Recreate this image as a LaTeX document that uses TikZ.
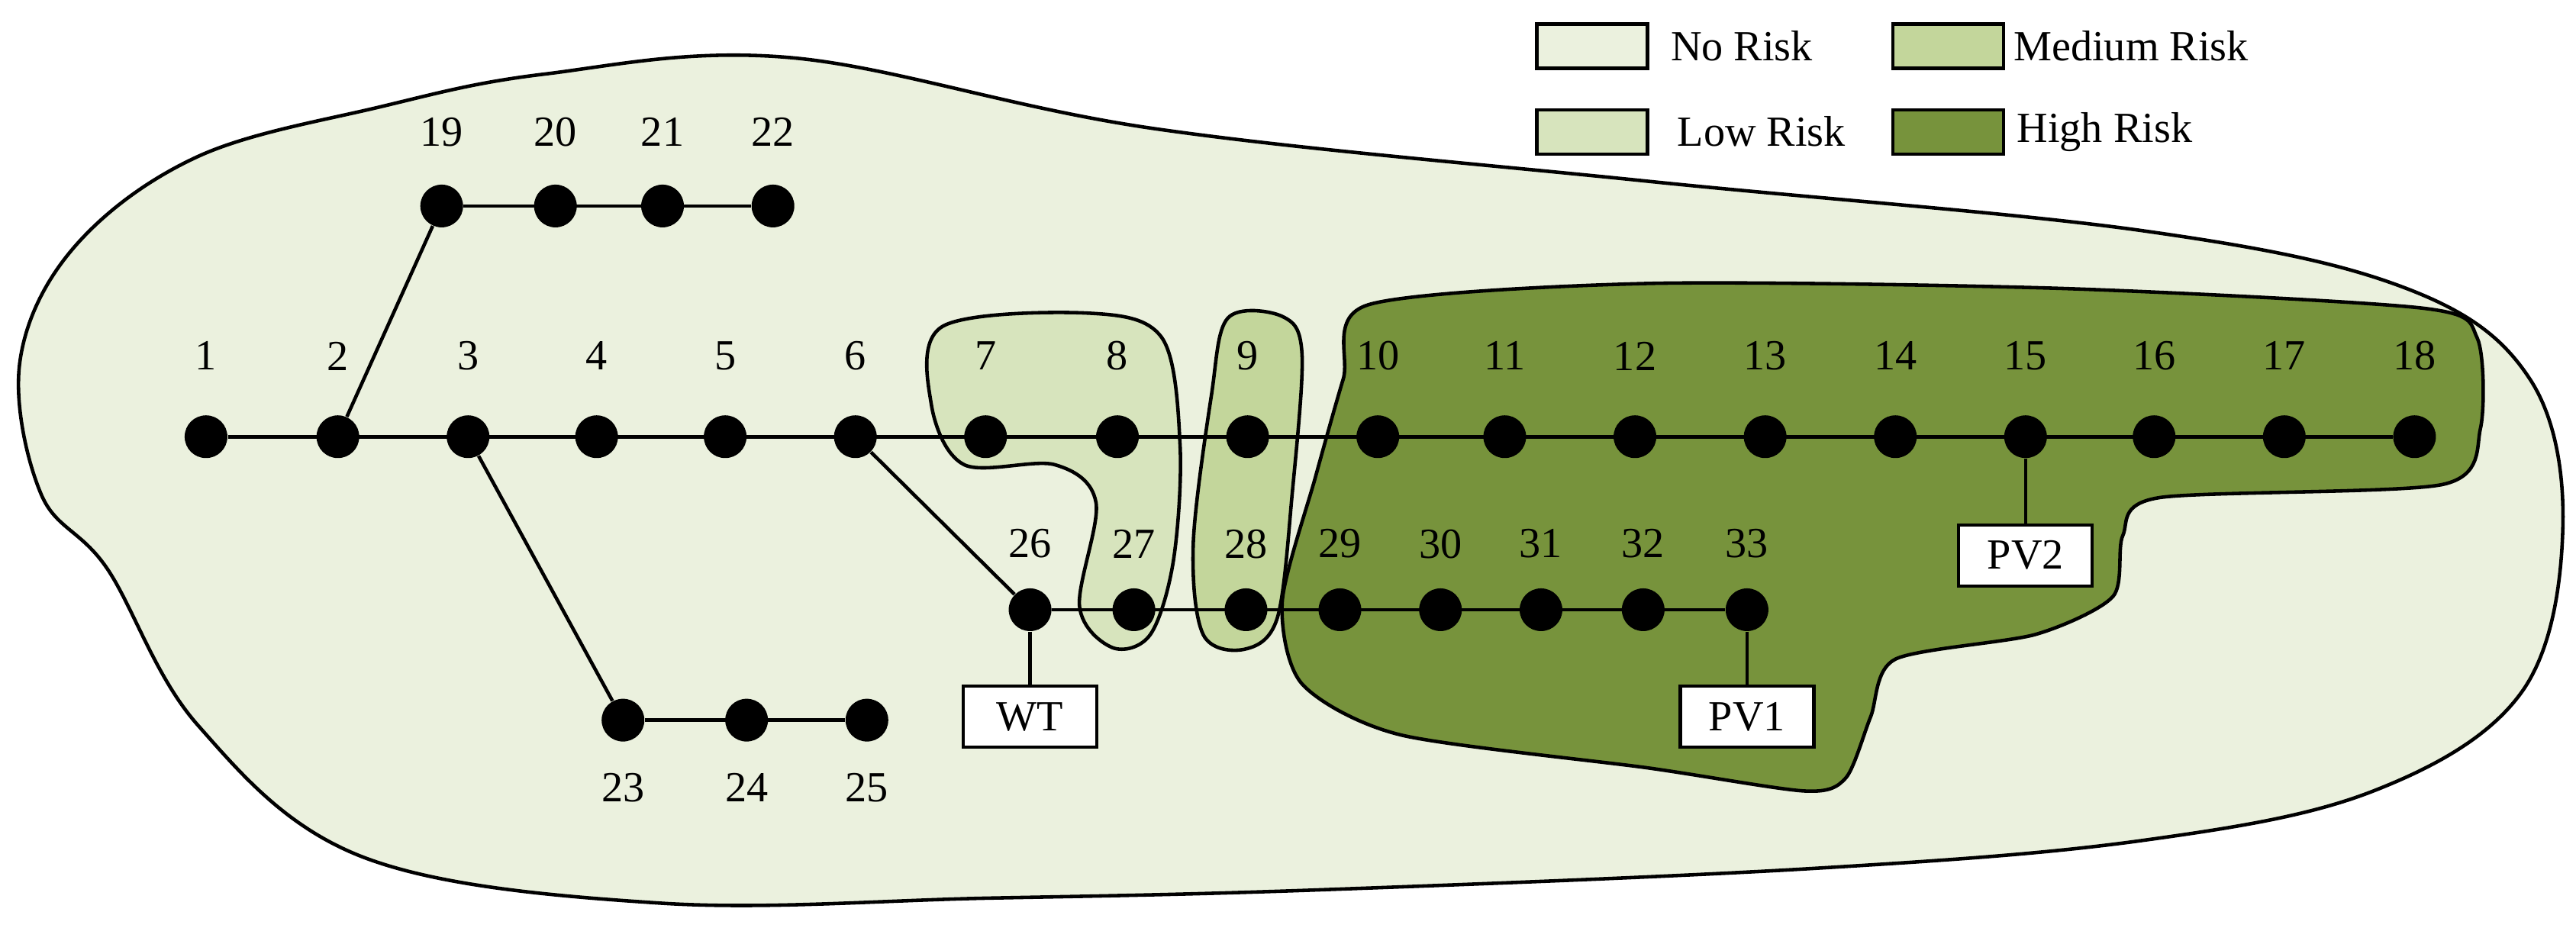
\documentclass[tikz,border=0pt]{standalone}
\usepackage{fontspec}
\setmainfont{Liberation Serif}
\begin{document}
\definecolor{nor}{HTML}{EBF1DE}
\definecolor{lowr}{HTML}{D7E4BD}
\definecolor{medr}{HTML}{C3D69B}
\definecolor{highr}{HTML}{77933C}
\begin{tikzpicture}[x=0.02159cm,y=-0.02159cm,
  bus/.style={circle,fill=black,inner sep=0pt,minimum size=0.56cm},
  lab/.style={font=\fontsize{16}{18}\selectfont},
  dev/.style={draw,fill=white,line width=1.2pt,minimum width=1.75cm,minimum height=0.8cm,font=\fontsize{16}{18}\selectfont},
  leg/.style={draw,line width=1.2pt,minimum width=1.45cm,minimum height=0.58cm},
  area/.style={draw,line width=1.3pt},
  ln/.style={line width=1.3pt}]
\useasboundingbox (0,0) rectangle (1563,563);
% areas
\draw[area,fill=nor] plot[smooth cycle,tension=0.6] coordinates{(230,65)(330,45)(480,35)(700,78)(1000,110)(1300,140)(1460,175)(1535,230)(1555,320)(1530,420)(1440,480)(1300,510)(1100,527)(800,540)(600,545)(400,548)(220,520)(120,440)(65,345)(25,300)(12,220)(45,150)(120,95)};
\draw[area,fill=lowr] plot[smooth cycle,tension=0.55] coordinates{(572,198)(660,190)(705,205)(716,270)(712,340)(698,385)(675,393)(655,368)(665,305)(640,282)(585,282)(565,245)};
\draw[area,fill=medr] plot[smooth cycle,tension=0.55] coordinates{(745,193)(778,192)(790,215)(784,300)(775,375)(755,394)(730,385)(724,330)(735,240)};
\draw[area,fill=highr] plot[smooth cycle,tension=0.45] coordinates{(830,185)(1000,172)(1250,175)(1470,187)(1503,205)(1505,260)(1482,294)(1310,302)(1288,325)(1282,362)(1235,385)(1150,400)(1135,435)(1120,472)(1095,480)(1000,466)(850,446)(790,415)(778,365)(798,290)(815,230)};
% buses
\foreach \n/\x in {1/125,2/205,3/284,4/362,5/440,6/519,7/598,8/678,9/757,10/836,11/913,12/992,13/1071,14/1150,15/1229,16/1307,17/1386,18/1465}{
  \node[bus] (b\n) at (\x,265) {}; \node[lab] (l\n) at (\x,216) {\n};}
\foreach \n/\x in {19/268,20/337,21/402,22/469}{
  \node[bus] (b\n) at (\x,125) {}; \node[lab] (l\n) at (\x,80) {\n};}
\foreach \n/\x in {26/625,27/688,28/756,29/813,30/874,31/935,32/997,33/1060}{
  \node[bus] (b\n) at (\x,370) {}; \node[lab] (l\n) at (\x,330) {\n};}
\foreach \n/\x in {23/378,24/453,25/526}{
  \node[bus] (b\n) at (\x,437) {}; \node[lab] (l\n) at (\x,478) {\n};}
% lines
\draw[ln] (b1)--(b18);
\draw[ln] (b19)--(b22);
\draw[ln] (b26)--(b33);
\draw[ln] (b23)--(b25);
\draw[ln] (b2)--(b19);
\draw[ln] (b3)--(b23);
\draw[ln] (b6)--(b26);
% devices
\node[dev] (wt) at (625,435) {WT};
\node[dev] (pv1) at (1060,435) {PV1};
\node[dev] (pv2) at (1229,337) {PV2};
\draw[ln] (b26)--(wt);
\draw[ln] (b33)--(pv1);
\draw[ln] (b15)--(pv2);
% legend
\node[leg,fill=nor] (k1) at (966,28) {};
\node[lab,anchor=west] (t1) at (1008,28) {No Risk};
\node[leg,fill=medr] (k2) at (1182,28) {};
\node[lab,anchor=west] (t2) at (1216,28) {Medium Risk};
\node[leg,fill=lowr] (k3) at (966,80) {};
\node[lab,anchor=west] (t3) at (1012,80) {Low Risk};
\node[leg,fill=highr] (k4) at (1182,80) {};
\node[lab,anchor=west] (t4) at (1218,80) {High Risk};
\end{tikzpicture}
\end{document}
